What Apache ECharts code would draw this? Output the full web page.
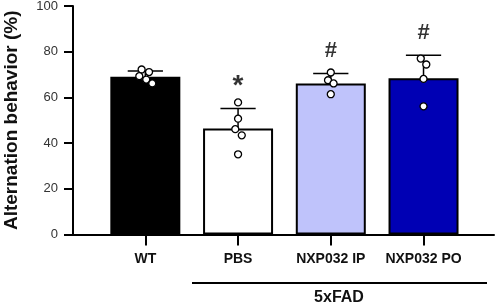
<!DOCTYPE html>
<html>
<head>
<meta charset="utf-8">
<script src="https://cdn.jsdelivr.net/npm/echarts@6/dist/echarts.min.js"></script>
<style>
  html, body { margin: 0; padding: 0; background: #fff; }
  #chart { width: 498px; height: 307px; }
</style>
</head>
<body>
<div id="chart"></div>
<script>
// group names and bar values (mean %)
const categories = ['WT', 'PBS', 'NXP032 IP', 'NXP032 PO'];
const means = [69.0, 46.4, 66.1, 68.4];
const sd = [2.6, 8.7, 4.4, 10.1];
const barColors = ['#000000', '#ffffff', '#bfc3fb', '#0000b4'];

// individual animals (value, small horizontal jitter in category units)
const wtPoints = [72.2, 71.1, 69.3, 67.8, 66.1];
const wtJitter = [-0.04, 0.04, -0.065, 0.01, 0.075];
const pbsPoints = [57.8, 50.7, 46.1, 43.4, 35.1];
const pbsJitter = [0, 0, -0.03, 0.04, 0];
const ipPoints = [70.9, 67.5, 66.1, 61.4];
const ipJitter = [0, -0.03, 0.03, 0];
const poPoints = [77.0, 74.4, 68.1, 56.1];
const poJitter = [-0.03, 0.03, 0, 0];

// significance marks
const sigText = ['', '*', '#', '#'];
const sigY = [null, 65, 80.5, 88];

const FONT = 'Liberation Sans, Arial, sans-serif';

const chart = echarts.init(document.getElementById('chart'));

const groups = [[wtPoints, wtJitter], [pbsPoints, pbsJitter], [ipPoints, ipJitter], [poPoints, poJitter]];
const pointData = [];
groups.forEach(function (g, i) {
    g[0].forEach(function (v, k) {
        pointData.push([i + g[1][k], v]);
    });
});

const option = {
    animation: false,
    grid: {
        left: 73,
        right: 4,
        top: 6,
        bottom: 72.5,
        outerBoundsMode: 'none'
    },
    xAxis: {
        type: 'value',
        min: -0.78,
        max: 3.76,
        splitLine: { show: false },
        axisLine: { show: true, onZero: false, lineStyle: { color: '#000', width: 2 } },
        axisTick: {
            show: true,
            customValues: [0, 1, 2, 3],
            length: 11,
            lineStyle: { color: '#000', width: 2 }
        },
        axisLabel: {
            customValues: [0, 1, 2, 3],
            formatter: function (v) { return categories[Math.round(v)]; },
            margin: 18,
            color: '#111',
            fontFamily: FONT,
            fontWeight: 'bold',
            fontSize: 14
        }
    },
    yAxis: {
        type: 'value',
        min: 0,
        max: 100,
        interval: 20,
        name: 'Alternation behavior (%)',
        nameLocation: 'middle',
        nameGap: 52,
        nameTextStyle: {
            fontFamily: FONT,
            fontWeight: 'bold',
            fontSize: 19,
            color: '#111'
        },
        splitLine: { show: false },
        axisLine: { show: true, onZero: false, lineStyle: { color: '#000', width: 2 } },
        axisTick: { show: true, length: 9, lineStyle: { color: '#000', width: 2 } },
        axisLabel: {
            margin: 15,
            color: '#333',
            fontFamily: FONT,
            fontSize: 13
        }
    },
    series: [
        {
            type: 'bar',
            barWidth: 70,
            z: 2,
            data: means.map(function (m, i) {
                return {
                    value: [i, m],
                    itemStyle: { color: barColors[i], borderColor: '#000', borderWidth: 2 }
                };
            })
        },
        {
            type: 'custom',
            z: 3,
            data: means.map(function (m, i) { return [i, m, m + sd[i]]; }),
            renderItem: function (params, api) {
                const x = api.value(0);
                const base = api.coord([x, api.value(1)]);
                const top = api.coord([x, api.value(2)]);
                const half = api.size([0.19, 0])[0];
                const style = { stroke: '#000', lineWidth: 1.5 };
                return {
                    type: 'group',
                    children: [
                        { type: 'line', shape: { x1: base[0], y1: base[1], x2: top[0], y2: top[1] }, style: style },
                        { type: 'line', shape: { x1: top[0] - half, y1: top[1], x2: top[0] + half, y2: top[1] }, style: style }
                    ]
                };
            }
        },
        {
            type: 'scatter',
            z: 4,
            symbol: 'circle',
            symbolSize: 7,
            itemStyle: { color: '#fff', borderColor: '#000', borderWidth: 1.3, opacity: 1 },
            data: pointData
        },
        {
            type: 'scatter',
            z: 5,
            symbolSize: 0,
            data: sigY.map(function (y, i) {
                if (y === null) return null;
                // asterisk glyph is smaller, give it a bigger size
                return { value: [i, y], label: { fontSize: sigText[i] === '*' ? 28 : 22 } };
            }),
            label: {
                show: true,
                position: 'inside',
                formatter: function (p) { return sigText[p.dataIndex]; },
                fontFamily: FONT,
                fontWeight: 'bold',
                fontSize: 22,
                color: '#000'
            }
        }
    ],
    graphic: [
        {
            type: 'line',
            shape: { x1: 192, y1: 283, x2: 487, y2: 283 },
            style: { stroke: '#000', lineWidth: 2 }
        },
        {
            type: 'text',
            x: 339,
            y: 298,
            style: {
                text: '5xFAD',
                align: 'center',
                verticalAlign: 'middle',
                fontFamily: FONT,
                fontWeight: 'bold',
                fontSize: 16,
                fill: '#111'
            }
        }
    ]
};

chart.setOption(option);
</script>
</body>
</html>
